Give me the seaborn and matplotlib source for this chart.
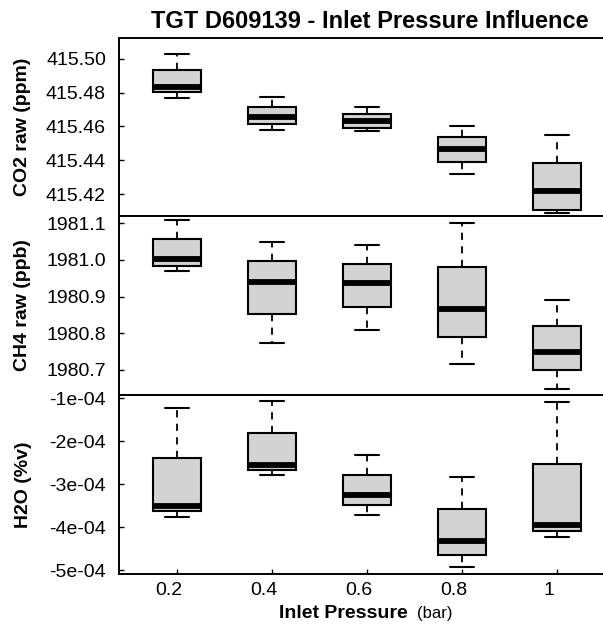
import matplotlib
matplotlib.use("Agg")
import matplotlib.pyplot as plt
import matplotlib.transforms as mtransforms
import numpy as np
import pandas as pd
import seaborn as sns

# ---------------- data ----------------
pressures = ["0.2", "0.4", "0.6", "0.8", "1"]

co2_lower = [415.4767, 415.4579, 415.4572, 415.4319, 415.4090]
co2_q1 = [415.4803, 415.4613, 415.4593, 415.4391, 415.4105]
co2_median = [415.4836, 415.4655, 415.4634, 415.4465, 415.4220]
co2_q3 = [415.4935, 415.4714, 415.4672, 415.4536, 415.4382]
co2_upper = [415.5028, 415.4775, 415.4714, 415.4603, 415.4550]

ch4_lower = [1980.971, 1980.773, 1980.809, 1980.716, 1980.647]
ch4_q1 = [1980.983, 1980.854, 1980.871, 1980.790, 1980.699]
ch4_median = [1981.004, 1980.940, 1980.938, 1980.867, 1980.749]
ch4_q3 = [1981.056, 1980.997, 1980.988, 1980.982, 1980.821]
ch4_upper = [1981.109, 1981.049, 1981.042, 1981.101, 1980.892]

h2o_lower = [-3.77e-4, -2.79e-4, -3.72e-4, -4.94e-4, -4.24e-4]
h2o_q1 = [-3.63e-4, -2.67e-4, -3.49e-4, -4.65e-4, -4.09e-4]
h2o_median = [-3.50e-4, -2.55e-4, -3.25e-4, -4.32e-4, -3.96e-4]
h2o_q3 = [-2.38e-4, -1.80e-4, -2.79e-4, -3.59e-4, -2.52e-4]
h2o_upper = [-1.23e-4, -1.06e-4, -2.31e-4, -2.83e-4, -1.09e-4]

co2_ticks = [415.42, 415.44, 415.46, 415.48, 415.50]
co2_ticklabels = ["415.42", "415.44", "415.46", "415.48", "415.50"]
ch4_ticks = [1980.7, 1980.8, 1980.9, 1981.0, 1981.1]
ch4_ticklabels = ["1980.7", "1980.8", "1980.9", "1981.0", "1981.1"]
h2o_ticks = [-5e-4, -4e-4, -3e-4, -2e-4, -1e-4]
h2o_ticklabels = ["-5e-04", "-4e-04", "-3e-04", "-2e-04", "-1e-04"]

title = "TGT D609139 - Inlet Pressure Influence"
ylabels = ["CO2 raw (ppm)", "CH4 raw (ppb)", "H2O (%v)"]
xlabel_bold = "Inlet Pressure"
xlabel_unit = "(bar)"


def long_frame(lower, q1, med, q3, upper):
    rows = []
    for i, p in enumerate(pressures):
        for v in (lower[i], q1[i], med[i], q3[i], upper[i]):
            rows.append({"pressure": p, "value": v})
    return pd.DataFrame(rows)


panels = [
    (long_frame(co2_lower, co2_q1, co2_median, co2_q3, co2_upper),
     co2_ticks, co2_ticklabels, (415.4070, 415.5124)),
    (long_frame(ch4_lower, ch4_q1, ch4_median, ch4_q3, ch4_upper),
     ch4_ticks, ch4_ticklabels, (1980.6318, 1981.1199)),
    (long_frame(h2o_lower, h2o_q1, h2o_median, h2o_q3, h2o_upper),
     h2o_ticks, h2o_ticklabels, (-5.093e-4, -0.923e-4)),
]

# ---------------- style ----------------
sns.set_theme(style="white")
plt.rcParams["font.family"] = ["Liberation Sans", "DejaVu Sans"]

W, H = 603, 625
fig = plt.figure(figsize=(W / 100, H / 100), dpi=100)

left_px, right_px = 118.5, 615.5
panel_px = [(38, 216), (216, 395), (395, 574)]

xlim = (-0.616, 4.616)

axes = []
for k, ((df, ticks, ticklabels, ylim), (top, bot)) in enumerate(zip(panels, panel_px)):
    ax = fig.add_axes([left_px / W, (H - bot) / H,
                       (right_px - left_px) / W, (bot - top) / H])
    sns.boxplot(
        data=df, x="pressure", y="value", order=pressures, ax=ax,
        color="#d3d3d3", linecolor="black", linewidth=1.5, saturation=1,
        width=0.515, whis=(0, 100), fill=True,
        medianprops={"linewidth": 4.2, "solid_capstyle": "butt"},
        whiskerprops={"linewidth": 1.3, "linestyle": (0, (4, 3.5))},
        capprops={"linewidth": 1.5},
        showfliers=False,
    )
    ax.set_xlim(*xlim)
    ax.set_ylim(*ylim)
    ax.set_yticks(ticks)
    ax.set_yticklabels(ticklabels)
    ax.set_xlabel("")
    ax.set_ylabel("")
    for name, sp in ax.spines.items():
        sp.set_visible(name != "right")
        sp.set_color("black")
        sp.set_linewidth(1.4)
    ax.tick_params(axis="y", direction="in", length=3.6, width=1.0,
                   labelsize=14, pad=9, colors="black", left=True)
    if k < 2:
        ax.tick_params(axis="x", bottom=False, labelbottom=False)
    else:
        ax.tick_params(axis="x", direction="in", length=3.6, width=1.0,
                       labelsize=14, pad=6, colors="black", bottom=True)
        offset = mtransforms.ScaledTranslation(-8 / 100, 0, fig.dpi_scale_trans)
        for lab in ax.get_xticklabels():
            lab.set_transform(lab.get_transform() + offset)
    ax.set_facecolor("white")
    # y label
    fig.text(23 / W, (H - (top + bot) / 2) / H, ylabels[k], rotation=90,
             ha="center", va="center", fontsize=14, fontweight="bold",
             color="black")
    axes.append(ax)

fig.text(370 / W, (H - 28) / H, title, ha="center", va="baseline",
         fontsize=17, fontweight="bold", color="black")
fig.text(408 / W, (H - 618) / H, xlabel_bold, ha="right", va="baseline",
         fontsize=14, fontweight="bold", color="black")
fig.text(417 / W, (H - 618) / H, xlabel_unit, ha="left", va="baseline",
         fontsize=12, color="black")

fig.savefig("out.png", dpi=100, facecolor="white")
